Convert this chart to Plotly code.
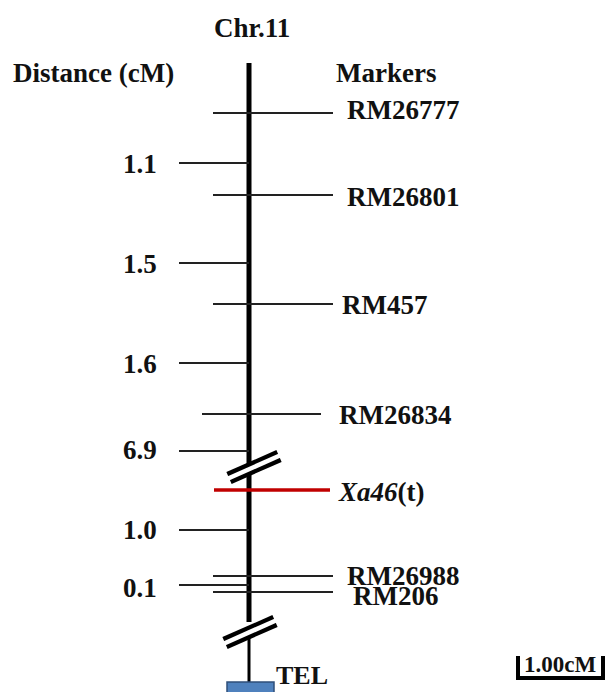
import plotly.graph_objects as go

# ---- data ----
chrom_name = "Chr.11"
markers = ["RM26777", "RM26801", "RM457", "RM26834", "Xa46(t)", "RM26988", "RM206"]
marker_pos = [113, 195, 304, 414, 490, 576, 592]          # map position (drawing units)
distances = ["1.1", "1.5", "1.6", "6.9", "1.0", "0.1"]
distance_pos = [163, 263, 363, 451, 530, 585]
gene_marker = "Xa46(t)"
scale_label = "1.00cM"

W, H = 609, 692
FONT = "Liberation Serif"
FS = 27
fig = go.Figure()
shapes = []
ann = []

def line(x0, y0, x1, y1, color="black", width=2):
    shapes.append(dict(type="line", xref="x", yref="y", x0=x0, y0=y0, x1=x1, y1=y1,
                       line=dict(color=color, width=width), layer="above"))

def text(x, y, s, size=FS, xanchor="left", color="#111111"):
    ann.append(dict(x=x, y=y, xref="x", yref="y", text=s, showarrow=False,
                    xanchor=xanchor, yanchor="middle",
                    font=dict(family=FONT, size=size, color=color)))

CX = 249
# chromosome body
line(CX, 63, CX, 622, width=5)
line(CX, 638, CX, 684, width=3)

# marker lines (right side)
for m, y in zip(markers, marker_pos):
    if m == gene_marker:
        line(214, y, 330, y, color="#C00000", width=3.5)
    elif m == "RM26834":
        line(202, y, 321, y, color="#222222", width=1.8)
    else:
        line(213, y, 333, y, color="#222222", width=1.8)

# distance ticks (left side)
for d, y in zip(distances, distance_pos):
    line(179, y, CX, y, color="#222222", width=1.8)

# break marks
def brk(xc, yc):
    dx, dy = 25, -11
    line(xc - dx, yc - dy, xc + dx, yc + dy, color="black", width=13)
    line(xc - dx - 2, yc - dy + 1, xc + dx + 2, yc + dy - 1, color="white", width=4.5)

brk(254, 467)
brk(250, 632)

# telomere box
shapes.append(dict(type="rect", xref="x", yref="y", x0=227, x1=274, y0=682, y1=705,
                   fillcolor="#4F81BD", line=dict(color="#2F4F7A", width=1.5), layer="above"))

# scale bar
line(516, 678, 605, 678, width=4)
line(518, 656, 518, 680, width=4)
line(603, 656, 603, 680, width=4)

# titles
text(252, 28, "<b>" + chrom_name + "</b>", xanchor="center")
text(11, 73, "<b>Distance (cM)</b>")
text(334, 73, "<b>Markers</b>")

# marker labels
label_x = {"RM26777": 345, "RM26801": 345, "RM457": 340, "RM26834": 337,
           "Xa46(t)": 336, "RM26988": 345, "RM206": 351}
label_dy = {"RM26777": -3, "RM26801": 2, "RM457": 1, "RM26834": 1,
            "Xa46(t)": 2, "RM26988": 0, "RM206": 4}
for m, y in zip(markers, marker_pos):
    if m == gene_marker:
        s = "<b><i>Xa46</i>(t)</b>"
    else:
        s = "<b>" + m + "</b>"
    text(label_x[m], y + label_dy[m], s)

# distance labels
dist_dy = [1, 1, 1, -1, 0, 3]
for d, y, dd in zip(distances, distance_pos, dist_dy):
    text(159, y + dd, "<b>" + d + "</b>", xanchor="right")

# TEL and scale label
text(274, 675, "<b>TEL</b>", size=26)
text(560, 664, "<b>" + scale_label + "</b>", size=23, xanchor="center")

fig.update_layout(
    width=W, height=H, margin=dict(l=0, r=0, t=0, b=0),
    paper_bgcolor="white", plot_bgcolor="white",
    xaxis=dict(range=[0, W], visible=False, fixedrange=True),
    yaxis=dict(range=[H, 0], visible=False, fixedrange=True),
    shapes=shapes, annotations=ann, showlegend=False,
)
fig.write_html("out.html")
